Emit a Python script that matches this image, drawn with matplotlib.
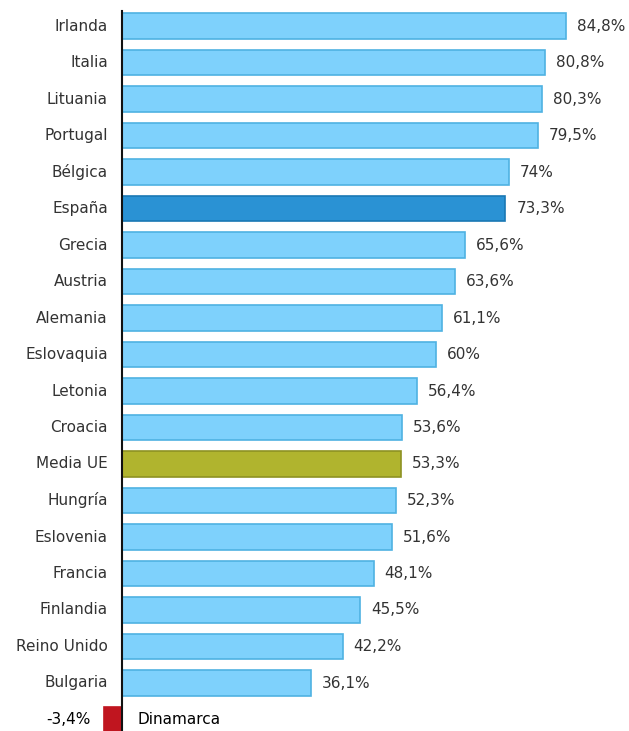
import matplotlib.pyplot as plt

# datos: variación por país (%)
paises = ['Irlanda', 'Italia', 'Lituania', 'Portugal', 'Bélgica', 'España',
          'Grecia', 'Austria', 'Alemania', 'Eslovaquia', 'Letonia', 'Croacia',
          'Media UE', 'Hungría', 'Eslovenia', 'Francia', 'Finlandia',
          'Reino Unido', 'Bulgaria', 'Dinamarca']
valores = [84.8, 80.8, 80.3, 79.5, 74, 73.3, 65.6, 63.6, 61.1, 60, 56.4, 53.6,
           53.3, 52.3, 51.6, 48.1, 45.5, 42.2, 36.1, -3.4]

def fmt(v):
    s = ('%.1f' % v).rstrip('0').rstrip('.')
    return s.replace('.', ',') + '%'

colores = []
bordes = []
for p, v in zip(paises, valores):
    if p == 'España':
        colores.append('#2a92d4'); bordes.append('#1a78b4')
    elif p == 'Media UE':
        colores.append('#b0b42e'); bordes.append('#8e9222')
    elif v < 0:
        colores.append('#c0151f'); bordes.append('#c0151f')
    else:
        colores.append('#7ed1fc'); bordes.append('#4fb2e2')

fig = plt.figure(figsize=(6.29, 7.31), dpi=100)
ax = fig.add_axes([0, 0, 1, 1])

y = list(range(len(paises)))
ax.barh(y, valores, height=0.71, color=colores, edgecolor=bordes, linewidth=1.2, zorder=2)

# escala: 0 en x=122 px, ~5.23 px por punto
ax.set_xlim(-122 / 5.23, (629 - 122) / 5.23)
ax.set_ylim((731 - 26) / 36.5, -26 / 36.5)

ax.plot([0, 0], [-0.42, 20], color='#111111', linewidth=1.5, zorder=3)

for i, (p, v) in enumerate(zip(paises, valores)):
    if v >= 0:
        ax.annotate(p, (0, i), xytext=(-14, 0), textcoords='offset pixels',
                    ha='right', va='center', fontsize=11, color='#333333')
        ax.annotate(fmt(v), (v, i), xytext=(11, 0), textcoords='offset pixels',
                    ha='left', va='center', fontsize=11, color='#333333')
    else:
        # negativos: etiqueta a la derecha del eje, valor a la izquierda
        ax.annotate(p, (0, i), xytext=(16, 0), textcoords='offset pixels',
                    ha='left', va='center', fontsize=11, color='#000000')
        ax.annotate(fmt(v), (v, i), xytext=(-14, 0), textcoords='offset pixels',
                    ha='right', va='center', fontsize=11, color='#000000')

ax.axis('off')
fig.savefig('out.png', dpi=100)
